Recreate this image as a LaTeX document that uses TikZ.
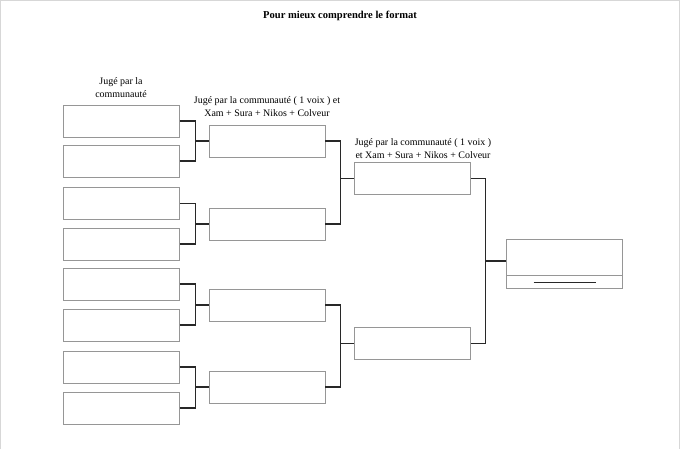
\documentclass[tikz,border=0pt]{standalone}
\usepackage{fontspec}
\setmainfont{Liberation Serif}
\usepackage{tikz}
\usetikzlibrary{calc}
\definecolor{boxG}{RGB}{150,150,150}
\definecolor{linkK}{RGB}{40,40,40}
\definecolor{pageG}{RGB}{215,215,215}
\tikzset{slot/.style={draw=boxG, line width=0.6pt, fill=white, minimum width=3.48cm, minimum height=0.96cm, inner sep=0pt},
  link/.style={draw=linkK, line width=0.9pt},
  caption/.style={font=\fontsize{8.5}{11}\selectfont, align=center, inner sep=0pt}}

\begin{document}
\begin{tikzpicture}[x=0.03cm, y=-0.03cm]
\useasboundingbox (0,0) rectangle (680,449);
% page edge
\draw[pageG, line width=0.6pt] (0.5,449) -- (0.5,0.5) -- (679.5,0.5) -- (679.5,449);
% ---- titles ----
\node[font=\fontsize{9}{11}\selectfont\bfseries, inner sep=0pt] (title) at (340,16) {Pour mieux comprendre le format};
\node[caption] (cap1) at (121,88) {Jugé par la\\communauté};
\node[caption] (cap2) at (267,107) {Jugé par la communauté ( 1 voix ) et\\Xam + Sura + Nikos + Colveur};
\node[caption] (cap3) at (423,149) {Jugé par la communauté ( 1 voix )\\et Xam + Sura + Nikos + Colveur};
% ---- round 1: eight slots ----
\foreach \i/\y in {1/121,2/161,3/203.5,4/244,5/284,6/325,7/367,8/408}{
  \node[slot] (a\i) at (121.5,\y) {};}
% ---- round 2 ----
\foreach \i/\y in {1/141,2/224,3/305,4/387}{
  \node[slot] (b\i) at (267,\y) {};}
% ---- round 3 ----
\foreach \i/\y in {1/178.5,2/343.5}{
  \node[slot] (c\i) at (412.5,\y) {};}
% ---- final ----
\node[slot, minimum height=1.45cm] (final) at (564.5,264) {};
\draw[draw=boxG, line width=0.6pt] ([yshift=0.39cm]final.south west) -- ([yshift=0.39cm]final.south east);
\draw[link] ([yshift=0.19cm,xshift=-0.93cm]final.south) -- ([yshift=0.19cm,xshift=0.93cm]final.south);
% connectors
\foreach \j/\k/\t in {1/2/1,3/4/2,5/6/3,7/8/4}{
  \draw[link] (a\j.east) -- ++(16,0) |- (b\t.west);
  \draw[link] (a\k.east) -- ++(16,0) |- (b\t.west);}
\foreach \j/\k/\t in {1/2/1,3/4/2}{
  \draw[link] (b\j.east) -- ++(15,0) |- (c\t.west);
  \draw[link] (b\k.east) -- ++(15,0) |- (c\t.west);}
\draw[link] (c1.east) -- ++(15,0) |- ([yshift=0.09cm]final.west);
\draw[link] (c2.east) -- ++(15,0) |- ([yshift=0.09cm]final.west);
\end{tikzpicture}
\end{document}
